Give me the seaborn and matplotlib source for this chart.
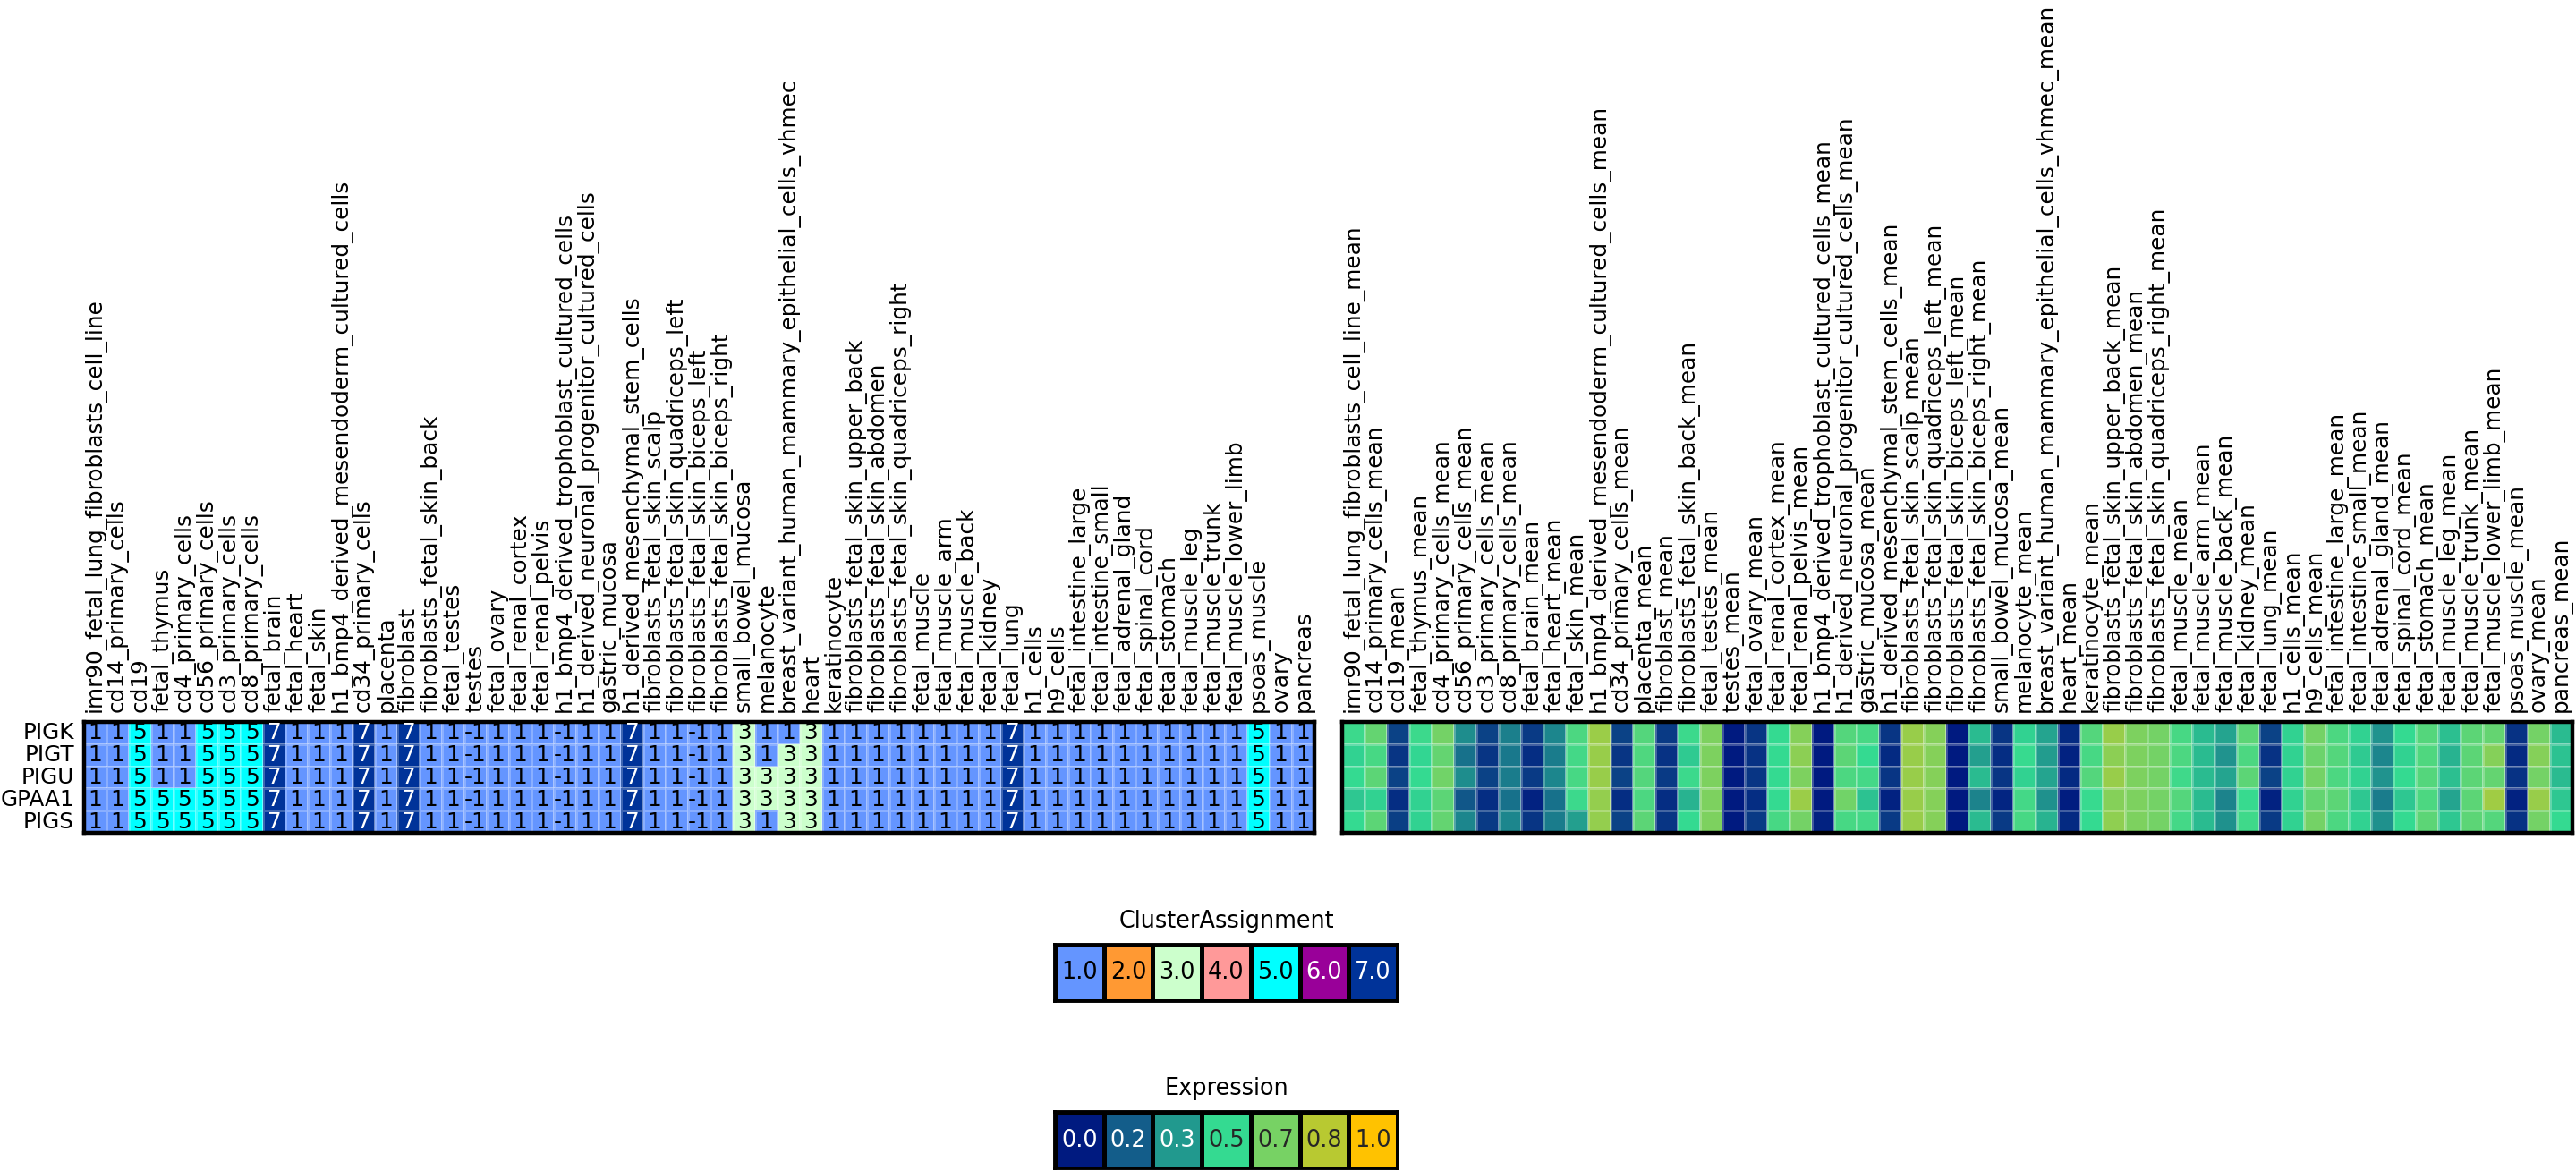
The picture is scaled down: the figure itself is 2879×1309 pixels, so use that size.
import numpy as np
import pandas as pd
import matplotlib
matplotlib.use("Agg")
import matplotlib.pyplot as plt
import seaborn as sns
from matplotlib.colors import ListedColormap, LinearSegmentedColormap

# ── Données ───────────────────────────────────────────────────
genes = ["PIGK", "PIGT", "PIGU", "GPAA1", "PIGS"]

tissues = [
    "imr90_fetal_lung_fibroblasts_cell_line", "cd14_primary_cells", "cd19",
    "fetal_thymus", "cd4_primary_cells", "cd56_primary_cells",
    "cd3_primary_cells", "cd8_primary_cells", "fetal_brain", "fetal_heart",
    "fetal_skin", "h1_bmp4_derived_mesendoderm_cultured_cells",
    "cd34_primary_cells", "placenta", "fibroblast",
    "fibroblasts_fetal_skin_back", "fetal_testes", "testes", "fetal_ovary",
    "fetal_renal_cortex", "fetal_renal_pelvis",
    "h1_bmp4_derived_trophoblast_cultured_cells",
    "h1_derived_neuronal_progenitor_cultured_cells", "gastric_mucosa",
    "h1_derived_mesenchymal_stem_cells", "fibroblasts_fetal_skin_scalp",
    "fibroblasts_fetal_skin_quadriceps_left",
    "fibroblasts_fetal_skin_biceps_left",
    "fibroblasts_fetal_skin_biceps_right", "small_bowel_mucosa",
    "melanocyte", "breast_variant_human_mammary_epithelial_cells_vhmec",
    "heart", "keratinocyte", "fibroblasts_fetal_skin_upper_back",
    "fibroblasts_fetal_skin_abdomen",
    "fibroblasts_fetal_skin_quadriceps_right", "fetal_muscle",
    "fetal_muscle_arm", "fetal_muscle_back", "fetal_kidney", "fetal_lung",
    "h1_cells", "h9_cells", "fetal_intestine_large", "fetal_intestine_small",
    "fetal_adrenal_gland", "fetal_spinal_cord", "fetal_stomach",
    "fetal_muscle_leg", "fetal_muscle_trunk", "fetal_muscle_lower_limb",
    "psoas_muscle", "ovary", "pancreas",
]
tissues_mean = [t + "_mean" for t in tissues]

# cluster par gène (55 colonnes)
clu_pigk = [1, 1, 5, 1, 1, 5, 5, 5, 7, 1, 1, 1, 7, 1, 7, 1,
            1, -1, 1, 1, 1, -1, 1, 1, 7, 1, 1, -1, 1, 3, 1, 1, 3, 1, 1,
            1, 1, 1, 1, 1, 1, 7, 1, 1, 1, 1, 1, 1, 1, 1, 1, 1, 5, 1, 1]
clu_pigt = [1, 1, 5, 1, 1, 5, 5, 5, 7, 1, 1, 1, 7, 1, 7, 1,
            1, -1, 1, 1, 1, -1, 1, 1, 7, 1, 1, -1, 1, 3, 1, 3, 3, 1, 1,
            1, 1, 1, 1, 1, 1, 7, 1, 1, 1, 1, 1, 1, 1, 1, 1, 1, 5, 1, 1]
clu_pigu = [1, 1, 5, 1, 1, 5, 5, 5, 7, 1, 1, 1, 7, 1, 7, 1,
            1, -1, 1, 1, 1, -1, 1, 1, 7, 1, 1, -1, 1, 3, 3, 3, 3, 1, 1,
            1, 1, 1, 1, 1, 1, 7, 1, 1, 1, 1, 1, 1, 1, 1, 1, 1, 5, 1, 1]
clu_gpaa1 = [1, 1, 5, 5, 5, 5, 5, 5, 7, 1, 1, 1, 7, 1, 7, 1,
             1, -1, 1, 1, 1, -1, 1, 1, 7, 1, 1, -1, 1, 3, 3, 3, 3, 1, 1,
             1, 1, 1, 1, 1, 1, 7, 1, 1, 1, 1, 1, 1, 1, 1, 1, 1, 5, 1, 1]
clu_pigs = [1, 1, 5, 5, 5, 5, 5, 5, 7, 1, 1, 1, 7, 1, 7, 1,
            1, -1, 1, 1, 1, -1, 1, 1, 7, 1, 1, -1, 1, 3, 1, 3, 3, 1, 1,
            1, 1, 1, 1, 1, 1, 7, 1, 1, 1, 1, 1, 1, 1, 1, 1, 1, 5, 1, 1]

# expression moyenne normalisée (55 colonnes)
expr_pigk = [0.52, 0.62, 0.10, 0.52, 0.66, 0.30, 0.10, 0.26, 0.08, 0.28,
             0.56, 0.76, 0.10, 0.58, 0.08, 0.52, 0.68, 0.00, 0.07, 0.50,
             0.70, 0.00, 0.58, 0.55, 0.07, 0.75, 0.70, 0.00, 0.42, 0.07,
             0.48, 0.36, 0.04, 0.58, 0.75, 0.68, 0.66, 0.55, 0.42, 0.36,
             0.60, 0.10, 0.48, 0.66, 0.56, 0.48, 0.32, 0.50, 0.58, 0.43,
             0.60, 0.62, 0.06, 0.66, 0.42]
expr_pigt = [0.48, 0.55, 0.07, 0.49, 0.62, 0.22, 0.07, 0.24, 0.05, 0.25,
             0.54, 0.75, 0.07, 0.57, 0.06, 0.46, 0.68, 0.00, 0.06, 0.50,
             0.72, 0.00, 0.60, 0.50, 0.04, 0.75, 0.70, 0.00, 0.35, 0.05,
             0.51, 0.34, 0.02, 0.55, 0.72, 0.68, 0.66, 0.56, 0.42, 0.32,
             0.56, 0.06, 0.48, 0.64, 0.58, 0.46, 0.28, 0.48, 0.57, 0.40,
             0.60, 0.70, 0.04, 0.70, 0.44]
expr_pigu = [0.50, 0.60, 0.10, 0.50, 0.65, 0.30, 0.10, 0.25, 0.08, 0.28,
             0.55, 0.75, 0.10, 0.58, 0.08, 0.52, 0.68, 0.00, 0.07, 0.50,
             0.68, 0.00, 0.56, 0.54, 0.07, 0.75, 0.70, 0.00, 0.42, 0.07,
             0.48, 0.36, 0.04, 0.58, 0.75, 0.68, 0.66, 0.53, 0.42, 0.36,
             0.60, 0.10, 0.48, 0.66, 0.56, 0.48, 0.32, 0.50, 0.58, 0.43,
             0.60, 0.62, 0.06, 0.66, 0.42]
expr_gpaa1 = [0.45, 0.48, 0.05, 0.48, 0.60, 0.15, 0.05, 0.22, 0.02, 0.22,
              0.52, 0.74, 0.05, 0.56, 0.05, 0.40, 0.68, 0.00, 0.05, 0.50,
              0.76, 0.00, 0.65, 0.44, 0.02, 0.75, 0.70, 0.00, 0.27, 0.03,
              0.54, 0.31, 0.01, 0.51, 0.70, 0.68, 0.66, 0.58, 0.42, 0.27,
              0.51, 0.02, 0.48, 0.62, 0.60, 0.45, 0.25, 0.45, 0.56, 0.36,
              0.60, 0.77, 0.02, 0.75, 0.45]
expr_pigs = [0.50, 0.60, 0.09, 0.48, 0.62, 0.28, 0.08, 0.28, 0.07, 0.25,
             0.35, 0.74, 0.10, 0.60, 0.07, 0.50, 0.68, 0.00, 0.08, 0.55,
             0.66, 0.02, 0.55, 0.54, 0.08, 0.75, 0.70, 0.00, 0.42, 0.08,
             0.55, 0.40, 0.04, 0.50, 0.73, 0.68, 0.66, 0.54, 0.42, 0.31,
             0.53, 0.08, 0.48, 0.66, 0.56, 0.48, 0.31, 0.50, 0.60, 0.45,
             0.60, 0.58, 0.06, 0.66, 0.50]

cluster_levels = [1.0, 2.0, 3.0, 4.0, 5.0, 6.0, 7.0]
cluster_colors = ["#6495FF", "#FF9933", "#CCFFCC", "#FF9999",
                  "#00FFFF", "#990099", "#003399"]
expr_levels = [0.0, 1 / 6, 2 / 6, 0.5, 4 / 6, 5 / 6, 1.0]
expr_colors = ["#001A80", "#135E8A", "#21998E", "#33DA92",
               "#77D264", "#B7C932", "#FFC200"]

# ── Mise en page (pixels) ─────────────────────────────────────
W, H, DPI = 2879, 1309, 200
FS = 8.9
FS_LEG = 9.2


def rect(x0, y0, x1, y1):
    return [x0 / W, 1 - y1 / H, (x1 - x0) / W, (y1 - y0) / H]


def frame(ax, lw=1.6):
    for s in ax.spines.values():
        s.set_visible(True)
        s.set_linewidth(lw)
        s.set_color("black")


clu_df = pd.DataFrame([clu_pigk, clu_pigt, clu_pigu, clu_gpaa1, clu_pigs],
                      index=genes, columns=tissues)
expr_df = pd.DataFrame([expr_pigk, expr_pigt, expr_pigu, expr_gpaa1, expr_pigs],
                       index=genes, columns=tissues_mean)

cmap_clu = ListedColormap(cluster_colors)
cmap_clu.set_under(cluster_colors[0])
cmap_expr = LinearSegmentedColormap.from_list(
    "expr", list(zip(expr_levels, expr_colors)))

fig = plt.figure(figsize=(W / DPI, H / DPI), dpi=DPI)

# ── Heatmap clusters ──────────────────────────────────────────
ax1 = fig.add_axes(rect(94, 807, 1469, 931))
sns.heatmap(clu_df, ax=ax1, cmap=cmap_clu, vmin=0.5, vmax=7.5,
            annot=True, fmt="d", cbar=False,
            linewidths=0.5, linecolor=(1, 1, 1, 0.25),
            xticklabels=True, yticklabels=True,
            annot_kws={"fontsize": FS})
for t in ax1.texts:
    t.set_color("white" if t.get_text() == "7" else "black")
ax1.xaxis.tick_top()
ax1.set_xticklabels(tissues, rotation=90, fontsize=FS)
ax1.set_yticklabels(genes, rotation=0, fontsize=FS)
ax1.tick_params(length=0, pad=4)
ax1.set_xlabel("")
ax1.set_ylabel("")
frame(ax1)

# ── Heatmap expression ────────────────────────────────────────
ax2 = fig.add_axes(rect(1500, 807, 2875, 931))
sns.heatmap(expr_df, ax=ax2, cmap=cmap_expr, vmin=0, vmax=1, cbar=False,
            linewidths=0.5, linecolor=(1, 1, 1, 0.25),
            xticklabels=True, yticklabels=False)
ax2.xaxis.tick_top()
ax2.set_xticklabels(tissues_mean, rotation=90, fontsize=FS)
ax2.tick_params(length=0, pad=4)
ax2.set_xlabel("")
ax2.set_ylabel("")
frame(ax2)

# ── Légendes ──────────────────────────────────────────────────
ax3 = fig.add_axes(rect(1179, 1056, 1562, 1119))
leg_clu = pd.DataFrame([cluster_levels])
sns.heatmap(leg_clu, ax=ax3, cmap=cmap_clu, vmin=0.5, vmax=7.5,
            annot=True, fmt=".1f", cbar=False, linewidths=1.1,
            linecolor="black", xticklabels=False, yticklabels=False,
            annot_kws={"fontsize": FS_LEG})
for t in ax3.texts:
    t.set_color("white" if t.get_text() in ("6.0", "7.0") else "black")
ax3.set_title("ClusterAssignment", fontsize=FS_LEG, pad=7)
frame(ax3, 1.4)

ax4 = fig.add_axes(rect(1179, 1243, 1562, 1306))
leg_expr = pd.DataFrame([expr_levels])
sns.heatmap(leg_expr, ax=ax4, cmap=cmap_expr, vmin=0, vmax=1,
            annot=True, fmt=".1f", cbar=False, linewidths=1.1,
            linecolor="black", xticklabels=False, yticklabels=False,
            annot_kws={"fontsize": FS_LEG})
ax4.set_title("Expression", fontsize=FS_LEG, pad=7)
frame(ax4, 1.4)

fig.savefig("out.png", dpi=DPI)
plt.close(fig)
